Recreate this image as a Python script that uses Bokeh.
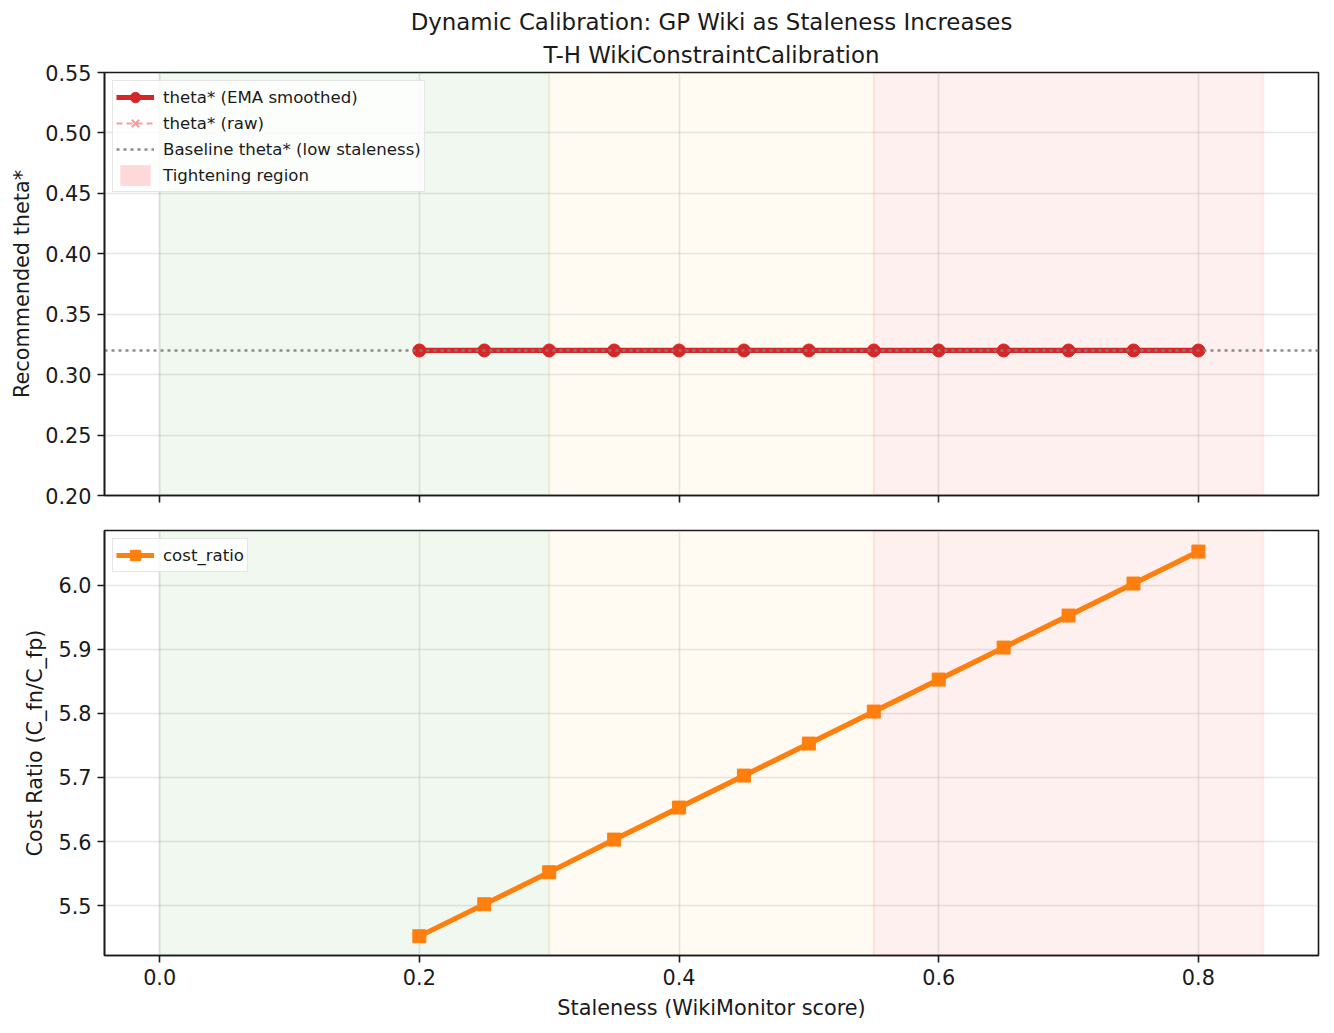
from bokeh.plotting import figure
from bokeh.models import (Range1d, Title, BoxAnnotation, Legend, LegendItem,
                          FixedTicker, PrintfTickFormatter, ColumnDataSource)
from bokeh.layouts import column
from bokeh.embed import file_html
from bokeh.resources import INLINE

# ---------------- data ----------------
staleness = [0.20, 0.25, 0.30, 0.35, 0.40, 0.45, 0.50, 0.55, 0.60, 0.65, 0.70, 0.75, 0.80]
theta_ema = [0.32, 0.32, 0.32, 0.32, 0.32, 0.32, 0.32, 0.32, 0.32, 0.32, 0.32, 0.32, 0.32]
theta_raw = [0.32, 0.32, 0.32, 0.32, 0.32, 0.32, 0.32, 0.32, 0.32, 0.32, 0.32, 0.32, 0.32]
cost_ratio = [5.452, 5.502, 5.552, 5.603, 5.653, 5.703, 5.753, 5.803, 5.853, 5.903, 5.953, 6.003, 6.053]
baseline_theta = 0.32

region_starts = [0.0, 0.30, 0.55]
region_ends = [0.30, 0.55, 0.85]
region_colors = ["green", "orange", "red"]
region_alphas = [0.06, 0.05, 0.06]

x_ticks = [0.0, 0.2, 0.4, 0.6, 0.8]
top_y_ticks = [0.20, 0.25, 0.30, 0.35, 0.40, 0.45, 0.50, 0.55]
bot_y_ticks = [5.5, 5.6, 5.7, 5.8, 5.9, 6.0]

title_line1 = "Dynamic Calibration: GP Wiki as Staleness Increases"
title_line2 = "T-H WikiConstraintCalibration"

FONT = "DejaVu Sans"
TICK_FS = "20.8px"
LABEL_FS = "20.8px"
TITLE_FS = "22.9px"
LEG_FS = "16.6px"

src = ColumnDataSource(dict(x=staleness, ema=theta_ema, raw=theta_raw, cost=cost_ratio))

x_range = Range1d(-0.0425, 0.8925)
top_y_range = Range1d(0.20, 0.55)
bot_y_range = Range1d(5.4219, 6.0859)


def style(p, yticks, yfmt):
    p.background_fill_color = "white"
    p.border_fill_color = "white"
    p.outline_line_color = "#1a1a1a"
    p.outline_line_width = 1.6
    for ax in (p.xaxis[0], p.yaxis[0]):
        ax.axis_line_color = "#1a1a1a"
        ax.axis_line_width = 1.6
        ax.major_tick_line_color = "#1a1a1a"
        ax.major_tick_line_width = 1.6
        ax.major_tick_in = 0
        ax.major_tick_out = 7
        ax.minor_tick_line_color = None
        ax.major_label_text_font = FONT
        ax.major_label_text_font_size = TICK_FS
        ax.major_label_text_color = "#1a1a1a"
        ax.major_label_standoff = 6
        ax.axis_label_text_font = FONT
        ax.axis_label_text_font_size = LABEL_FS
        ax.axis_label_text_font_style = "normal"
        ax.axis_label_text_color = "#1a1a1a"
        ax.axis_label_standoff = 8
    p.xaxis[0].ticker = FixedTicker(ticks=x_ticks)
    p.xaxis[0].formatter = PrintfTickFormatter(format="%.1f")
    p.yaxis[0].ticker = FixedTicker(ticks=yticks)
    p.yaxis[0].formatter = PrintfTickFormatter(format=yfmt)
    p.xgrid[0].ticker = FixedTicker(ticks=x_ticks)
    p.ygrid[0].ticker = FixedTicker(ticks=yticks)
    for g in (p.xgrid[0], p.ygrid[0]):
        g.grid_line_color = "#b0b0b0"
        g.grid_line_alpha = 0.3
        g.grid_line_width = 1.6
    for s, e, c, a in zip(region_starts, region_ends, region_colors, region_alphas):
        p.add_layout(BoxAnnotation(left=s, right=e, fill_color=c, fill_alpha=a,
                                   line_color=c, line_alpha=a, line_width=2,
                                   level="underlay"))


# ---------------- top panel ----------------
p1 = figure(width=1326, height=512, x_range=x_range, y_range=top_y_range,
            output_backend="svg", toolbar_location=None,
            min_border_left=104, min_border_right=8, min_border_top=72, min_border_bottom=17)
p1.title.text = title_line1
p1.title.align = "center"
p1.title.text_font = FONT
p1.title.text_font_size = TITLE_FS
p1.title.text_font_style = "normal"
p1.title.text_color = "#1a1a1a"
p1.title.standoff = 0
p1.add_layout(Title(text=title_line2, align="center", text_font=FONT, text_font_size=TITLE_FS,
                    text_font_style="normal", text_color="#1a1a1a", standoff=10), "above")
style(p1, top_y_ticks, "%.2f")
p1.xaxis[0].major_label_text_font_size = "0px"
p1.xaxis[0].major_label_standoff = 0
p1.yaxis[0].axis_label = "Recommended theta*"

raw_line = p1.line("x", "raw", source=src, line_color="#f08080", line_alpha=0.75,
                   line_width=2, line_dash="6 4")
raw_pts = p1.scatter("x", "raw", source=src, marker="x", size=11, line_color="#f08080",
                     line_alpha=0.75, line_width=2)
ema_line = p1.line("x", "ema", source=src, line_color="#d62728", line_width=5.2)
ema_pts = p1.scatter("x", "ema", source=src, marker="circle", size=13,
                     fill_color="#d62728", line_color="#d62728")
base_src = ColumnDataSource(dict(x=[x_range.start, x_range.end],
                                 y=[baseline_theta, baseline_theta]))
base_line = p1.line("x", "y", source=base_src, line_color="gray", line_alpha=0.9,
                    line_width=2.4, line_dash="3 4")
# legend-only patch for the tightening region (zero height, so nothing drawn in the plot)
tight_src = ColumnDataSource(dict(l=[region_starts[2]], r=[region_ends[2]],
                                  b=[top_y_range.start], t=[top_y_range.start]))
tight_leg = p1.quad(left="l", right="r", bottom="b", top="t", source=tight_src,
                    fill_color="red", fill_alpha=0.15, line_color="red", line_alpha=0.0)

leg1 = Legend(items=[
    LegendItem(label="theta* (EMA smoothed)", renderers=[ema_line, ema_pts]),
    LegendItem(label="theta* (raw)", renderers=[raw_line, raw_pts]),
    LegendItem(label="Baseline theta* (low staleness)", renderers=[base_line]),
    LegendItem(label="Tightening region", renderers=[tight_leg]),
], location="top_left")

# ---------------- bottom panel ----------------
p2 = figure(width=1326, height=511, x_range=x_range, y_range=bot_y_range,
            output_backend="svg", toolbar_location=None,
            min_border_left=104, min_border_right=8, min_border_top=18, min_border_bottom=68)
style(p2, bot_y_ticks, "%.1f")
p2.xaxis[0].axis_label = "Staleness (WikiMonitor score)"
p2.yaxis[0].axis_label = "Cost Ratio (C_fn/C_fp)"
c_line = p2.line("x", "cost", source=src, line_color="#ff7f0e", line_width=5.2)
c_pts = p2.scatter("x", "cost", source=src, marker="square", size=13,
                   fill_color="#ff7f0e", line_color="#ff7f0e")
leg2 = Legend(items=[LegendItem(label="cost_ratio", renderers=[c_line, c_pts])],
              location="top_left")

for lg, p in ((leg1, p1), (leg2, p2)):
    lg.label_text_font = FONT
    lg.label_text_font_size = LEG_FS
    lg.label_text_color = "#1a1a1a"
    lg.glyph_width = 38
    lg.glyph_height = 26
    lg.label_height = 26
    lg.label_standoff = 9
    lg.spacing = 0
    lg.padding = 3
    lg.margin = 8
    lg.border_line_color = "#cccccc"
    lg.border_line_width = 1.5
    lg.background_fill_alpha = 0.8
    p.add_layout(lg)

layout = column(p1, p2)
open("out.html", "w").write(file_html(layout, INLINE))
